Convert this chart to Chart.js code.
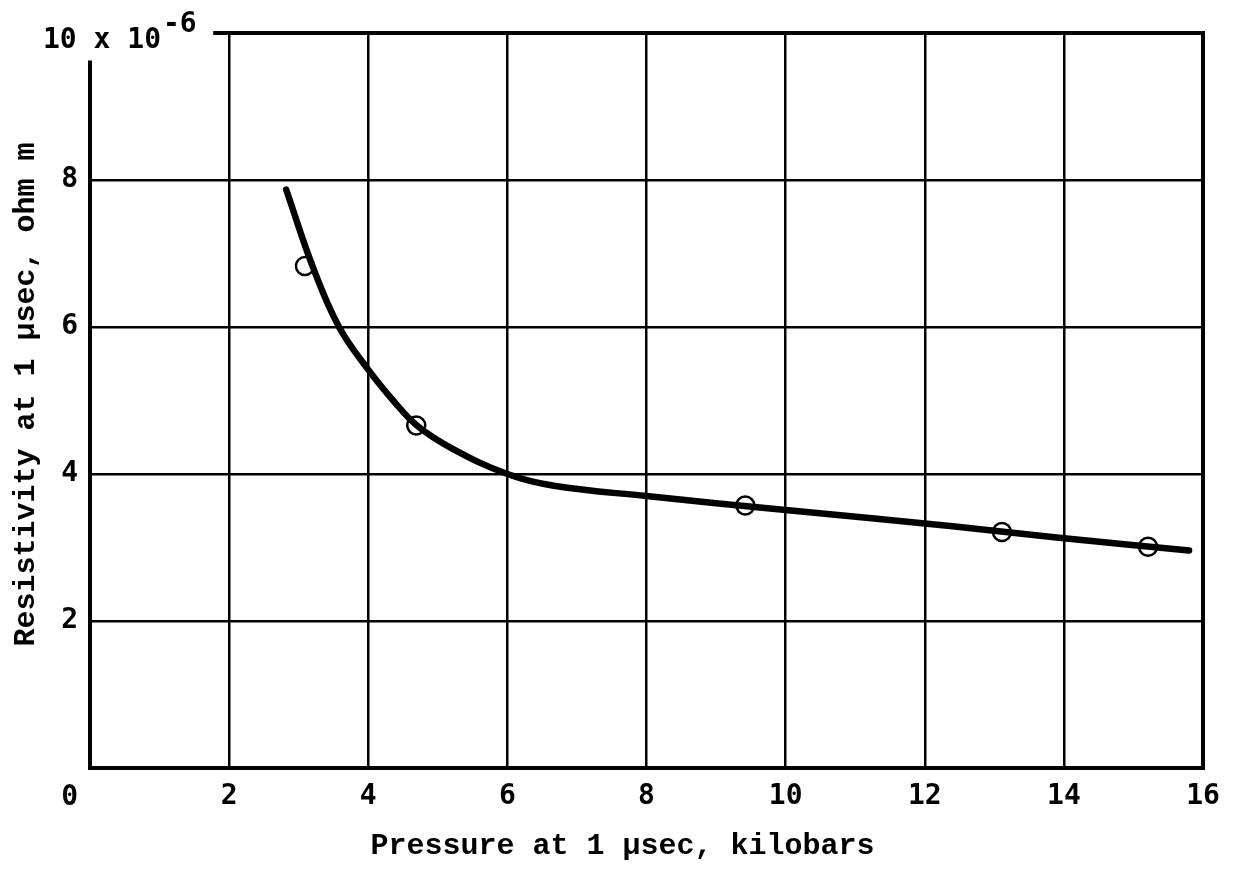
<!DOCTYPE html>
<html>
<head>
<meta charset="utf-8">
<title>Resistivity vs pressure at 1 µsec</title>
<script src="https://cdn.jsdelivr.net/npm/chart.js@4/dist/chart.umd.min.js"></script>
<style>
  html, body { margin: 0; padding: 0; background: #ffffff; }
  #wrap { width: 1238px; height: 881px; }
</style>
</head>
<body>
<div id="wrap"><canvas id="chart" width="1238" height="881"></canvas></div>
<script>
// Measured points: pressure (kilobars) and resistivity (x 10^-6 ohm m)
const measuredPressure    = [3.09, 4.69, 9.42, 13.11, 15.21];
const measuredResistivity = [6.83, 4.66, 3.57, 3.21, 3.01];

// Faired curve through the measurements
const curvePressure    = [2.82, 3.21, 3.58, 4.00, 4.35, 4.70, 5.20, 6.00, 6.67, 8.00, 10.00, 12.40, 13.86, 15.80];
const curveResistivity = [7.87, 6.80, 6.00, 5.42, 5.01, 4.66, 4.35, 4.00, 3.84, 3.70, 3.51, 3.29, 3.14, 2.96];

// Axis ticks
const pressureTicks    = [0, 2, 4, 6, 8, 10, 12, 14, 16];
const resistivityTicks = [0, 2, 4, 6, 8, 10];

const xTitle = 'Pressure at 1 \u03BCsec, kilobars';
const yTitle = 'Resistivity at 1 \u03BCsec, ohm m';
const topLabel = '10 x 10';
const topExponent = '-6';

const tickFont  = { family: '"DejaVu Sans Mono", monospace', size: 28, weight: 'bold' };
const titleFont = 'bold 30px "Liberation Mono", "Courier New", monospace';

const toXY = (xs, ys) => xs.map((x, i) => ({ x: x, y: ys[i] }));

// Frame, corner labels and axis titles drawn on top of the plot
const framePlugin = {
  id: 'frameAndLabels',
  afterDraw(chart) {
    const ctx = chart.ctx;
    const xs = chart.scales.x, ys = chart.scales.y;
    const L = xs.getPixelForValue(0), R = xs.getPixelForValue(16);
    const T = ys.getPixelForValue(10), B = ys.getPixelForValue(0);
    ctx.save();
    ctx.strokeStyle = '#000';
    ctx.lineWidth = 4;
    ctx.lineCap = 'square';
    ctx.beginPath();
    // left axis (stops short of the top)
    ctx.moveTo(L, ys.getPixelForValue(9.6));
    ctx.lineTo(L, B);
    // bottom axis
    ctx.lineTo(R, B);
    // right border
    ctx.lineTo(R, T);
    // top border (starts right of the exponent label)
    ctx.lineTo(xs.getPixelForValue(1.8), T);
    ctx.stroke();

    ctx.fillStyle = '#000';
    ctx.font = 'bold ' + tickFont.size + 'px ' + tickFont.family;
    // shared origin label
    ctx.textAlign = 'right';
    ctx.textBaseline = 'alphabetic';
    ctx.fillText('0', L - 12, B + 37);
    // top scale label with exponent
    ctx.textAlign = 'left';
    ctx.fillText(topLabel, L - 47, T + 15);
    const w = ctx.measureText(topLabel).width;
    ctx.fillText(topExponent, L - 47 + w + 2, T - 1);

    // axis titles
    ctx.font = titleFont;
    ctx.textAlign = 'center';
    ctx.fillText(xTitle, (L + R) / 2 - 24, B + 86);
    ctx.translate(34, (T + B) / 2 - 6);
    ctx.rotate(-Math.PI / 2);
    ctx.fillText(yTitle, 0, 0);
    ctx.restore();
  }
};

const gridColor = (edgeValues) => (c) =>
  edgeValues.includes(c.tick && c.tick.value) ? 'rgba(0,0,0,0)' : '#000';

new Chart(document.getElementById('chart'), {
  type: 'scatter',
  data: {
    datasets: [
      {
        label: 'curve',
        data: toXY(curvePressure, curveResistivity),
        showLine: true,
        tension: 0.4,
        borderColor: '#000',
        borderWidth: 6.5,
        borderCapStyle: 'round',
        borderJoinStyle: 'round',
        pointRadius: 0,
        order: 0
      },
      {
        label: 'measured',
        data: toXY(measuredPressure, measuredResistivity),
        showLine: false,
        pointStyle: 'circle',
        pointRadius: 9,
        pointBorderWidth: 2.5,
        pointBorderColor: '#000',
        pointBackgroundColor: 'rgba(0,0,0,0)',
        order: 1
      }
    ]
  },
  options: {
    responsive: false,
    animation: false,
    layout: { padding: { top: 33, right: 35, left: 0, bottom: 0 } },
    plugins: { legend: { display: false }, tooltip: { enabled: false } },
    scales: {
      x: {
        type: 'linear',
        min: 0, max: 16,
        afterBuildTicks: (s) => { s.ticks = pressureTicks.map(v => ({ value: v })); },
        afterFit: (s) => { s.height = 113; },
        ticks: {
          color: '#000',
          font: tickFont,
          padding: 12,
          maxRotation: 0,
          callback: (v) => (v === 0 ? '' : String(v))
        },
        grid: { color: gridColor([0, 16]), lineWidth: 2.5, drawTicks: false },
        border: { display: false }
      },
      y: {
        type: 'linear',
        min: 0, max: 10,
        afterBuildTicks: (s) => { s.ticks = resistivityTicks.map(v => ({ value: v })); },
        afterFit: (s) => { s.width = 90; },
        ticks: {
          color: '#000',
          font: tickFont,
          padding: 12,
          callback: (v) => (v === 0 || v === 10 ? '' : String(v))
        },
        grid: { color: gridColor([0, 10]), lineWidth: 2.5, drawTicks: false },
        border: { display: false }
      }
    }
  },
  plugins: [framePlugin]
});
</script>
</body>
</html>
